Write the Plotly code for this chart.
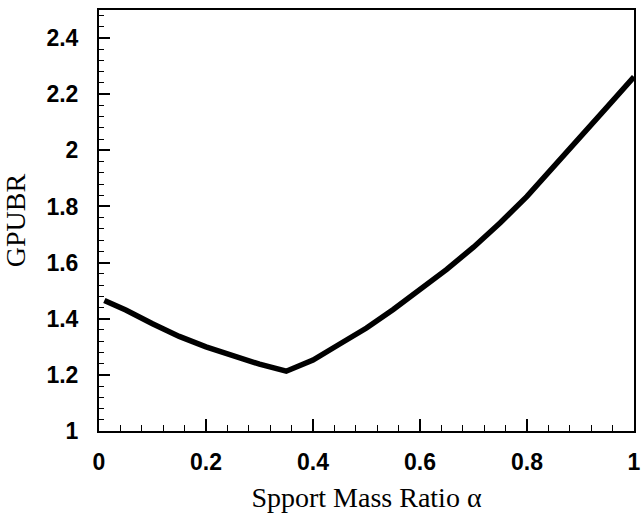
import plotly.graph_objects as go

alpha = [0.01, 0.05, 0.10, 0.15, 0.20, 0.25, 0.30, 0.35, 0.375, 0.40, 0.45, 0.50,
         0.55, 0.60, 0.65, 0.70, 0.75, 0.80, 0.85, 0.90, 0.95, 1.00]
gpubr = [1.465, 1.431, 1.382, 1.337, 1.300, 1.268, 1.238, 1.213, 1.232, 1.253, 1.310, 1.367,
         1.433, 1.502, 1.576, 1.655, 1.742, 1.836, 1.940, 2.047, 2.155, 2.262]

x_ticks = [0, 0.2, 0.4, 0.6, 0.8, 1]
x_labels = ["0", "0.2", "0.4", "0.6", "0.8", "1"]
y_ticks = [1, 1.2, 1.4, 1.6, 1.8, 2, 2.2, 2.4]
y_labels = ["1", "1.2", "1.4", "1.6", "1.8", "2", "2.2", "2.4"]

fig = go.Figure()
fig.add_trace(go.Scatter(x=alpha, y=gpubr, mode="lines",
                         line=dict(color="black", width=5.5), showlegend=False))

tickfont = dict(family="Liberation Sans", size=23, color="black", weight="bold")

fig.update_xaxes(
    range=[0, 1], tickvals=x_ticks, ticktext=x_labels,
    ticks="inside", ticklen=12, tickwidth=1.5, tickcolor="black",
    minor=dict(dtick=0.04, tick0=0, ticks="inside", ticklen=6, tickwidth=1, tickcolor="black"),
    showline=True, linewidth=2, linecolor="black", mirror=True,
    showgrid=False, zeroline=False, tickfont=tickfont, ticklabelstandoff=9,
    ticklabeloverflow="allow", automargin=False,
    title=dict(text="Spport Mass Ratio α",
               font=dict(family="Liberation Serif", size=28, color="black"), standoff=14),
)
fig.update_yaxes(
    range=[1, 2.5], tickvals=y_ticks, ticktext=y_labels,
    ticks="inside", ticklen=11, tickwidth=1.5, tickcolor="black",
    minor=dict(dtick=0.04, tick0=1, ticks="inside", ticklen=5, tickwidth=1, tickcolor="black"),
    showline=True, linewidth=2, linecolor="black", mirror=True,
    showgrid=False, zeroline=False, tickfont=tickfont, ticklabelstandoff=14,
    ticklabeloverflow="allow", automargin=False,
    title=dict(text="GPUBR",
               font=dict(family="Liberation Serif", size=28, color="black"), standoff=16),
)

fig.update_layout(
    width=642, height=514,
    margin=dict(l=99, r=8, t=10, b=83),
    paper_bgcolor="white", plot_bgcolor="white",
)

fig.write_html("out.html")
